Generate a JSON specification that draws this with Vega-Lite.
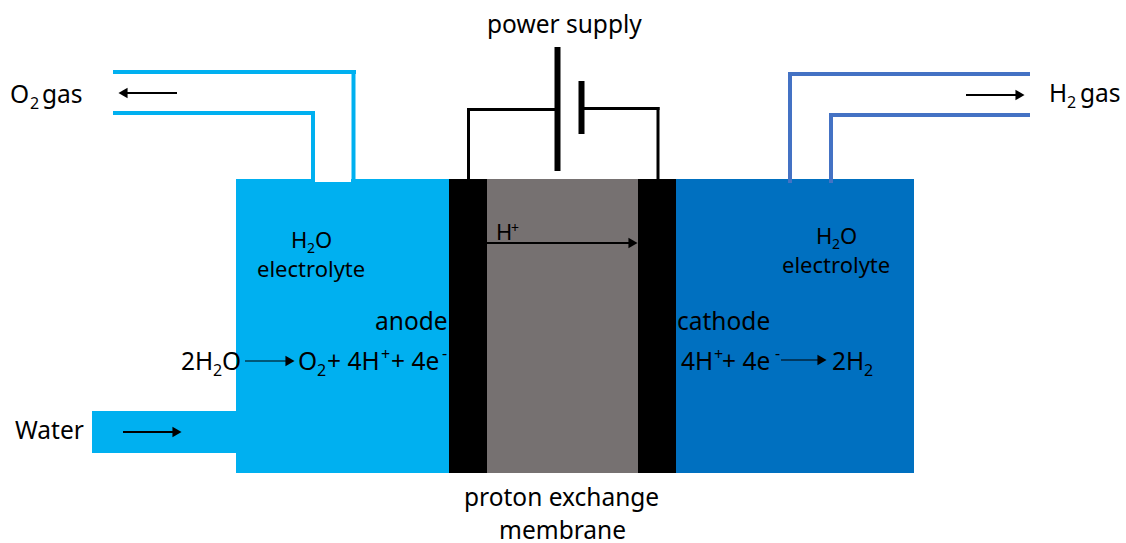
{"$schema":"https://vega.github.io/schema/vega-lite/v6.json","width":1126,"height":543,"padding":0,"autosize":"none","background":"white","view":{"stroke":null},
"config":{"axis":{"disable":true}},
"datasets":{
"regions":[
{"part":"anode chamber","x":236,"x2":449,"y":179,"y2":473},
{"part":"anode chamber","x":92,"x2":236,"y":411,"y2":453},
{"part":"gap","x":315,"x2":351,"y":179,"y2":182},
{"part":"electrode","x":449,"x2":487,"y":179,"y2":473},
{"part":"membrane","x":487,"x2":638,"y":179,"y2":473},
{"part":"electrode","x":638,"x2":676,"y":179,"y2":473},
{"part":"cathode chamber","x":676,"x2":914,"y":179,"y2":473}],
"pipes":[
{"pipe":"O2","x":113,"x2":356,"y":72,"y2":72},
{"pipe":"O2","x":353.5,"x2":353.5,"y":72,"y2":181},
{"pipe":"O2","x":113,"x2":315,"y":113,"y2":113},
{"pipe":"O2","x":313,"x2":313,"y":113,"y2":181},
{"pipe":"H2","x":788,"x2":1030,"y":74,"y2":74},
{"pipe":"H2","x":790,"x2":790,"y":74,"y2":183},
{"pipe":"H2","x":829,"x2":1030,"y":115,"y2":115},
{"pipe":"H2","x":831,"x2":831,"y":115,"y2":183}],
"wires":[
{"x":468.5,"x2":556,"y":109.5,"y2":109.5},
{"x":468.5,"x2":468.5,"y":109.5,"y2":179},
{"x":581,"x2":658,"y":108.5,"y2":108.5},
{"x":658,"x2":658,"y":108.5,"y2":179}],
"plates":[
{"x":557.5,"x2":557.5,"y":47,"y2":171},
{"x":581.5,"x2":581.5,"y":81,"y2":134}],
"shafts":[
{"x":125,"x2":177,"y":93,"y2":93},
{"x":966,"x2":1018,"y":95,"y2":95},
{"x":487,"x2":630,"y":243,"y2":243},
{"x":123,"x2":175,"y":432,"y2":432}],
"thinShafts":[
{"x":245,"x2":288,"y":361,"y2":361},
{"x":781,"x2":820,"y":360,"y2":360}],
"headsRight":[
{"x":1020,"y":95},{"x":633,"y":243},{"x":177,"y":432},{"x":290,"y":361},{"x":822,"y":360}],
"headsLeft":[{"x":123,"y":93}],
"large":[
{"t":"power supply","x":487,"y":33},
{"t":"O","x":10,"y":103},{"t":"gas","x":42,"y":103},
{"t":"H","x":1049,"y":102},{"t":"gas","x":1080,"y":102},
{"t":"anode","x":375,"y":330},{"t":"cathode","x":677,"y":330},
{"t":"2H","x":181,"y":370},{"t":"O","x":222,"y":370},
{"t":"O","x":298,"y":370},{"t":"+ 4H","x":327,"y":370},{"t":"+ 4e","x":391,"y":370},
{"t":"4H","x":681,"y":370},{"t":"+ 4e","x":722,"y":370},
{"t":"2H","x":832,"y":370},
{"t":"Water","x":15,"y":439},
{"t":"proton exchange","x":464,"y":506},{"t":"membrane","x":499,"y":539}],
"medium":[
{"t":"H","x":291,"y":248},{"t":"O","x":315,"y":248},{"t":"electrolyte","x":257,"y":277},
{"t":"H","x":816,"y":244},{"t":"O","x":840,"y":244},{"t":"electrolyte","x":782,"y":273},
{"t":"H","x":496,"y":240}],
"subs":[
{"t":"2","x":30,"y":109},{"t":"2","x":1067,"y":108},
{"t":"2","x":213,"y":376},{"t":"2","x":317,"y":376},{"t":"2","x":864,"y":376},
{"t":"+","x":381,"y":360},{"t":"-","x":442,"y":359},{"t":"+","x":714,"y":360},{"t":"-","x":775,"y":359}],
"subsSmall":[
{"t":"2","x":307,"y":253},{"t":"2","x":832,"y":249},{"t":"+","x":511,"y":233}]
},
"encoding":{
"x":{"field":"x","type":"quantitative","scale":{"domain":[0,1126],"nice":false,"zero":false},"axis":null},
"y":{"field":"y","type":"quantitative","scale":{"domain":[543,0],"nice":false,"zero":false},"axis":null}},
"layer":[
{"data":{"name":"regions"},"mark":{"type":"rect"},"encoding":{"x2":{"field":"x2"},"y2":{"field":"y2"},"color":{"field":"part","type":"nominal","legend":null,"scale":{"domain":["anode chamber","gap","electrode","membrane","cathode chamber"],"range":["#00B0F0","#FFFFFF","#000000","#767171","#0070C0"]}}}},
{"data":{"name":"pipes"},"mark":{"type":"rule","strokeWidth":4,"strokeCap":"butt"},"encoding":{"x2":{"field":"x2"},"y2":{"field":"y2"},"stroke":{"field":"pipe","type":"nominal","legend":null,"scale":{"domain":["O2","H2"],"range":["#00B0F0","#4472C4"]}}}},
{"data":{"name":"wires"},"mark":{"type":"rule","strokeWidth":3,"color":"#000","strokeCap":"square"},"encoding":{"x2":{"field":"x2"},"y2":{"field":"y2"}}},
{"data":{"name":"plates"},"mark":{"type":"rule","strokeWidth":6,"color":"#000"},"encoding":{"x2":{"field":"x2"},"y2":{"field":"y2"}}},
{"data":{"name":"shafts"},"mark":{"type":"rule","strokeWidth":1.8,"color":"#000"},"encoding":{"x2":{"field":"x2"},"y2":{"field":"y2"}}},
{"data":{"name":"thinShafts"},"mark":{"type":"rule","strokeWidth":1,"color":"#000"},"encoding":{"x2":{"field":"x2"},"y2":{"field":"y2"}}},
{"data":{"name":"headsRight"},"mark":{"type":"point","shape":"triangle-right","filled":true,"opacity":1,"color":"#000","size":110}},
{"data":{"name":"headsLeft"},"mark":{"type":"point","shape":"triangle-left","filled":true,"opacity":1,"color":"#000","size":110}},
{"data":{"name":"large"},"mark":{"type":"text","font":"Noto Sans","fontSize":24.5,"align":"left","baseline":"alphabetic","color":"#000"},"encoding":{"text":{"field":"t"}}},
{"data":{"name":"medium"},"mark":{"type":"text","font":"Noto Sans","fontSize":22,"align":"left","baseline":"alphabetic","color":"#000"},"encoding":{"text":{"field":"t"}}},
{"data":{"name":"subs"},"mark":{"type":"text","font":"Noto Sans","fontSize":16,"align":"left","baseline":"alphabetic","color":"#000"},"encoding":{"text":{"field":"t"}}},
{"data":{"name":"subsSmall"},"mark":{"type":"text","font":"Noto Sans","fontSize":14,"align":"left","baseline":"alphabetic","color":"#000"},"encoding":{"text":{"field":"t"}}}
]}
